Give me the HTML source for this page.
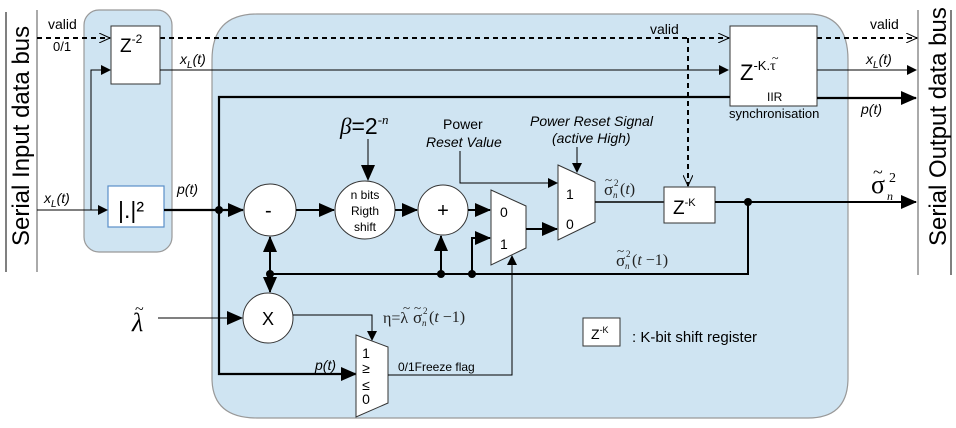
<!DOCTYPE html>
<html><head><meta charset="utf-8"><style>
html,body{margin:0;padding:0;background:#fff;}
svg{display:block;font-family:"Liberation Sans",sans-serif;}
.it{font-style:italic;}
.ser{font-family:"Liberation Serif",serif;}
</style></head><body>
<svg width="956" height="428" viewBox="0 0 956 428" xmlns="http://www.w3.org/2000/svg">
<defs>
<marker id="a" markerWidth="10" markerHeight="10" refX="9" refY="5" orient="auto" markerUnits="userSpaceOnUse"><path d="M0,0 L10,5 L0,10 z" fill="#000"/></marker>
<marker id="ab" markerWidth="16" markerHeight="14" refX="15" refY="7" orient="auto" markerUnits="userSpaceOnUse"><path d="M0,0 L16,7 L0,14 z" fill="#000"/></marker>
<marker id="ao" markerWidth="12" markerHeight="10" refX="11" refY="5" orient="auto" markerUnits="userSpaceOnUse"><path d="M0,0 L11,5 L0,10" fill="none" stroke="#000" stroke-width="1"/></marker>
</defs>
<rect x="84" y="10" width="88" height="242" rx="15" fill="#cfe4f2" stroke="#999" stroke-width="1.2"/>
<path d="M257,14 H808 Q848,14 848,60 V378 Q848,418 808,418 H257 Q212,418 212,378 V60 Q212,14 257,14 Z" fill="#cfe4f2" stroke="#999" stroke-width="1.2"/>
<line x1="6" y1="12" x2="6" y2="272" stroke="#000"/>
<line x1="37" y1="10" x2="37" y2="272" stroke="#555"/>
<line x1="918" y1="10" x2="918" y2="275" stroke="#555"/>
<line x1="951" y1="10" x2="951" y2="275" stroke="#000"/>
<text transform="translate(29,246) rotate(-90)" font-size="24">Serial Input data bus</text>
<text transform="translate(946,246) rotate(-90)" font-size="24">Serial Output data bus</text>
<line x1="37" y1="38" x2="110" y2="38" stroke="#000" stroke-width="2" stroke-dasharray="5,4" marker-end="url(#ao)"/>
<line x1="160" y1="38" x2="729" y2="38" stroke="#000" stroke-width="2" stroke-dasharray="5,4" marker-end="url(#ao)"/>
<line x1="817" y1="38" x2="917" y2="38" stroke="#000" stroke-width="2" stroke-dasharray="5,4" marker-end="url(#ao)"/>
<line x1="688" y1="38" x2="688" y2="186" stroke="#000" stroke-width="2" stroke-dasharray="5,4" marker-end="url(#ao)"/>
<text x="48" y="29" font-size="14">valid</text>
<text x="53" y="51" font-size="13">0/1</text>
<text x="650" y="34" font-size="14">valid</text>
<text x="870" y="29" font-size="14">valid</text>
<rect x="111" y="26" width="49" height="58" fill="#fff" stroke="#333"/>
<text x="120" y="52" font-size="19">Z<tspan font-size="12" dy="-9">-2</tspan></text>
<rect x="108" y="186" width="56" height="41" fill="#fff" stroke="#5b8fc9" stroke-width="1.2"/>
<text x="118" y="218" font-size="23">|.|²</text>
<line x1="37" y1="210" x2="107" y2="210" stroke="#000" marker-end="url(#a)"/>
<polyline points="91,210 91,70 110,70" fill="none" stroke="#000" marker-end="url(#a)"/>
<text x="44" y="203" font-size="14" class="it">x<tspan font-size="10" dy="4">L</tspan><tspan dy="-4">(t)</tspan></text>
<line x1="160" y1="70" x2="728" y2="70" stroke="#000" marker-end="url(#a)"/>
<line x1="817" y1="70" x2="916" y2="70" stroke="#000" marker-end="url(#a)"/>
<text x="180" y="64" font-size="14" class="it">x<tspan font-size="10" dy="4">L</tspan><tspan dy="-4">(t)</tspan></text>
<text x="866" y="64" font-size="14" class="it">x<tspan font-size="10" dy="4">L</tspan><tspan dy="-4">(t)</tspan></text>
<rect x="730" y="26" width="87" height="80" fill="#fff" stroke="#333"/>
<text x="740" y="80" font-size="22">Z<tspan font-size="13" dy="-10">-K.</tspan><tspan class="ser" font-size="14">τ</tspan></text>
<text x="772" y="62" font-size="12" class="ser">~</text>
<text x="767" y="101" font-size="12">IIR</text>
<text x="729" y="118" font-size="13">synchronisation</text>
<line x1="164" y1="210" x2="243" y2="210" stroke="#000" stroke-width="2.2" marker-end="url(#ab)"/>
<text x="177" y="194" font-size="14" class="it">p(t)</text>
<circle cx="219" cy="210" r="4" fill="#000"/>
<polyline points="730,97 219,97 219,374 356,374" fill="none" stroke="#000" stroke-width="2.2" marker-end="url(#ab)"/>
<line x1="817" y1="98" x2="916" y2="98" stroke="#000" stroke-width="2.2" marker-end="url(#ab)"/>
<text x="861" y="114" font-size="14" class="it">p(t)</text>
<text x="315" y="370" font-size="14" class="it">p(t)</text>
<circle cx="270" cy="210" r="26" fill="#fff" stroke="#333"/>
<text x="265" y="217" font-size="20">-</text>
<line x1="296" y1="210" x2="334" y2="210" stroke="#000" stroke-width="2" marker-end="url(#ab)"/>
<ellipse cx="365" cy="210" rx="30" ry="29" fill="#fff" stroke="#333"/>
<text x="365" y="199" font-size="12" text-anchor="middle">n bits</text>
<text x="365" y="215" font-size="12" text-anchor="middle">Rigth</text>
<text x="365" y="231" font-size="12" text-anchor="middle">shift</text>
<text x="340" y="134" font-size="23" class="ser it">β<tspan font-style="normal" font-family="Liberation Sans">=2</tspan><tspan font-size="13" dy="-10">-n</tspan></text>
<line x1="368" y1="139" x2="368" y2="180" stroke="#000" marker-end="url(#ab)"/>
<line x1="395" y1="210" x2="417" y2="210" stroke="#000" stroke-width="2" marker-end="url(#ab)"/>
<circle cx="443" cy="210" r="25" fill="#fff" stroke="#333"/>
<text x="443" y="217" font-size="20" text-anchor="middle">+</text>
<line x1="468" y1="210" x2="490" y2="210" stroke="#000" stroke-width="2" marker-end="url(#ab)"/>
<polygon points="491,190 526,206 526,248 491,265" fill="#fff" stroke="#333"/>
<text x="500" y="217" font-size="14">0</text>
<text x="500" y="249" font-size="14">1</text>
<polyline points="472,274 472,238 490,238" fill="none" stroke="#000" stroke-width="2" marker-end="url(#ab)"/>
<line x1="526" y1="229" x2="557" y2="229" stroke="#000" stroke-width="2" marker-end="url(#ab)"/>
<polygon points="558,165 595,182 595,222 558,240" fill="#fff" stroke="#333"/>
<text x="566" y="199" font-size="14">1</text>
<text x="566" y="229" font-size="14">0</text>
<polyline points="460,151 460,183 557,183" fill="none" stroke="#000" marker-end="url(#a)"/>
<line x1="577" y1="147" x2="577" y2="172" stroke="#000" marker-end="url(#a)"/>
<text x="443" y="129" font-size="14">Power</text>
<text x="426" y="147" font-size="14" class="it">Reset Value</text>
<text x="530" y="126" font-size="14" class="it">Power Reset Signal</text>
<text x="552" y="143" font-size="14" class="it">(active  High)</text>
<line x1="595" y1="202" x2="664" y2="202" stroke="#000" stroke-width="1.5"/>
<g class="ser" fill="#222">
<text x="604" y="195" font-size="17">σ</text><text x="605" y="184" font-size="13">~</text>
<text x="614" y="186" font-size="9">2</text><text x="613" y="198" font-size="9" class="it">n</text>
<text x="620" y="194" font-size="16">(<tspan class="it">t</tspan>)</text>
</g>
<rect x="664" y="187" width="51" height="36" fill="#fff" stroke="#333"/>
<text x="673" y="214" font-size="19">Z<tspan font-size="11" dy="-8">-K</tspan></text>
<line x1="715" y1="202" x2="916" y2="202" stroke="#000" stroke-width="2" marker-end="url(#ab)"/>
<circle cx="748" cy="202" r="4" fill="#000"/>
<g class="ser">
<text x="871" y="193" font-size="26">σ</text><text x="873" y="178" font-size="18">~</text>
<text x="889" y="182" font-size="14">2</text><text x="887" y="200" font-size="12" class="it">n</text>
</g>
<polyline points="748,202 748,274 270,274" fill="none" stroke="#000" stroke-width="2"/>
<g class="ser" fill="#222">
<text x="616" y="266" font-size="17">σ</text><text x="617" y="255" font-size="13">~</text>
<text x="626" y="257" font-size="9">2</text><text x="625" y="269" font-size="9" class="it">n</text>
<text x="632" y="265" font-size="16">(<tspan class="it">t</tspan> −1)</text>
</g>
<circle cx="270" cy="274" r="4" fill="#000"/>
<circle cx="441" cy="274" r="4" fill="#000"/>
<circle cx="472" cy="274" r="4" fill="#000"/>
<line x1="270" y1="274" x2="270" y2="237" stroke="#000" stroke-width="2" marker-end="url(#ab)"/>
<line x1="270" y1="274" x2="270" y2="292" stroke="#000" stroke-width="2" marker-end="url(#ab)"/>
<line x1="441" y1="274" x2="441" y2="236" stroke="#000" stroke-width="2" marker-end="url(#ab)"/>
<circle cx="268" cy="318" r="25" fill="#fff" stroke="#333"/>
<text x="268" y="325" font-size="18" text-anchor="middle">X</text>
<text x="132" y="331" font-size="26" class="ser it">λ</text>
<text x="135" y="314" font-size="16" class="ser">~</text>
<line x1="158" y1="318" x2="242" y2="318" stroke="#000" marker-end="url(#ab)"/>
<polyline points="293,315 372,315 372,340" fill="none" stroke="#000" marker-end="url(#a)"/>
<g class="ser" fill="#222">
<text x="383" y="323" font-size="16">η=λ</text><text x="403" y="312" font-size="13">~</text>
<text x="413" y="323" font-size="17">σ</text><text x="414" y="312" font-size="13">~</text>
<text x="423" y="314" font-size="9">2</text><text x="422" y="326" font-size="9" class="it">n</text>
<text x="429" y="322" font-size="16">(<tspan class="it">t</tspan> −1)</text>
</g>
<polygon points="356,335 388,347 388,403 356,417" fill="#fff" stroke="#333"/>
<text x="366" y="358" font-size="14" text-anchor="middle">1</text>
<text x="366" y="373" font-size="14" text-anchor="middle">≥</text>
<text x="366" y="390" font-size="14" text-anchor="middle">≤</text>
<text x="366" y="404" font-size="14" text-anchor="middle">0</text>
<polyline points="388,375 512,375 512,256" fill="none" stroke="#000" marker-end="url(#a)"/>
<text x="398" y="371" font-size="12">0/1Freeze flag</text>
<rect x="583" y="318" width="37" height="28" fill="#fff" stroke="#333"/>
<text x="591" y="339" font-size="14">Z<tspan font-size="9" dy="-6">-K</tspan></text>
<text x="632" y="342" font-size="15">: K-bit shift register</text>
</svg>
</body></html>
